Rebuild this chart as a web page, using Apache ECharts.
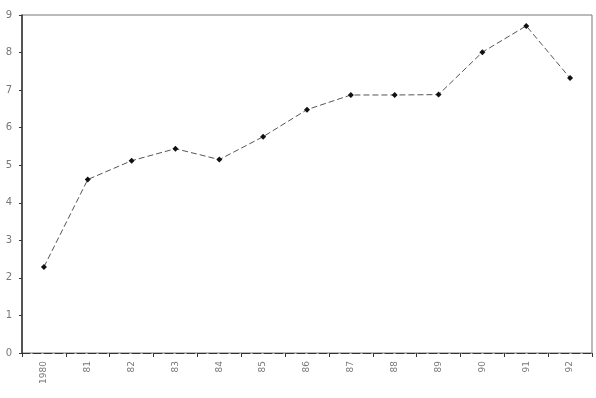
<!DOCTYPE html>
<html>
<head>
<meta charset="utf-8">
<script src="https://cdn.jsdelivr.net/npm/echarts@6/dist/echarts.min.js"></script>
<style>html,body{margin:0;padding:0;background:#fff}#c{width:596px;height:398px}</style>
</head>
<body>
<div id="c"></div>
<script>
const categories = ['1980','81','82','83','84','85','86','87','88','89','90','91','92'];
const values = [2.29, 4.62, 5.12, 5.44, 5.15, 5.76, 6.48, 6.87, 6.87, 6.88, 8.01, 8.71, 7.32];
const yTicks = [0, 1, 2, 3, 4, 5, 6, 7, 8, 9];

const chart = echarts.init(document.getElementById('c'));
chart.setOption({
  animation: false,
  backgroundColor: '#fff',
  grid: { left: 22, right: 4, top: 15, bottom: 45, show: true, borderColor: '#777', borderWidth: 1, backgroundColor: 'transparent' },
  xAxis: {
    type: 'category',
    data: categories,
    boundaryGap: true,
    axisLine: { lineStyle: { color: '#333', type: [8, 3], width: 1 } },
    axisTick: { show: true, length: 4, inside: false, lineStyle: { color: '#333' } },
    axisLabel: { rotate: 90, color: '#777', fontSize: 9, fontFamily: 'DejaVu Sans', margin: 8 }
  },
  yAxis: {
    type: 'value',
    min: 0, max: 9, interval: 1,
    axisLine: { show: true, lineStyle: { color: '#333', width: 1.5 } },
    axisTick: { show: true, length: 3, lineStyle: { color: '#333' } },
    splitLine: { show: false },
    axisLabel: { color: '#777', fontSize: 10, fontFamily: 'DejaVu Sans', margin: 10,
      formatter: v => yTicks.includes(v) ? String(v) : '' }
  },
  series: [{
    type: 'line',
    data: values,
    symbol: 'diamond',
    symbolSize: 6,
    itemStyle: { color: '#111' },
    lineStyle: { color: '#555', width: 1, type: [6, 3] }
  }]
});
</script>
</body>
</html>
